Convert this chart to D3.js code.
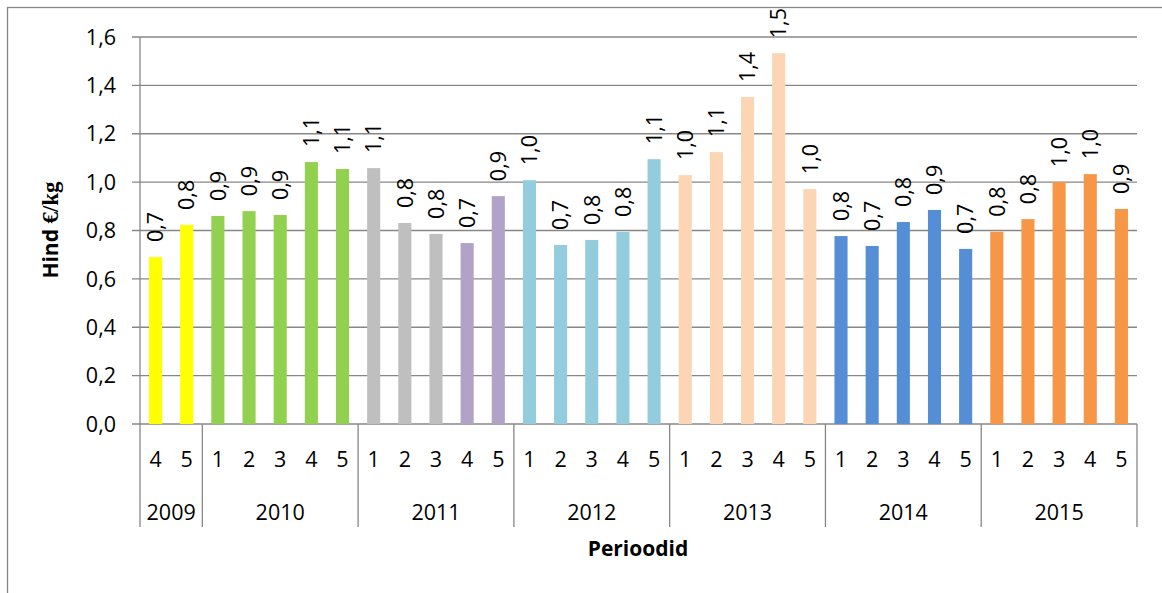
<!DOCTYPE html>
<html>
<head>
<meta charset="utf-8">
<script src="https://cdn.jsdelivr.net/npm/d3@7"></script>
<style>
  body { margin: 0; background: #fff; }
  svg { display: block; font-family: "Open Sans", "Liberation Sans", sans-serif; }
</style>
</head>
<body>
<svg id="chart" width="1162" height="593"></svg>
<script>
// data
var years = ["2009", "2010", "2011", "2012", "2013", "2014", "2015"];
var periods = [
  ["4", "5"],
  ["1", "2", "3", "4", "5"],
  ["1", "2", "3", "4", "5"],
  ["1", "2", "3", "4", "5"],
  ["1", "2", "3", "4", "5"],
  ["1", "2", "3", "4", "5"],
  ["1", "2", "3", "4", "5"]
];
var values = [
  0.69, 0.823,
  0.86, 0.88, 0.864, 1.083, 1.054,
  1.058, 0.831, 0.786, 0.748, 0.942,
  1.008, 0.74, 0.761, 0.794, 1.095,
  1.029, 1.124, 1.352, 1.533, 0.971,
  0.777, 0.736, 0.835, 0.885, 0.724,
  0.795, 0.847, 1.0, 1.033, 0.889
];
var yTicks = [0, 0.2, 0.4, 0.6, 0.8, 1.0, 1.2, 1.4, 1.6];

// colours by year (2011 splits after period 3)
var palette = {
  "2009": "#FFFF00", "2010": "#92D050", "2011": "#BFBFBF", "2011b": "#B3A2C7",
  "2012": "#93CDDD", "2013": "#FCD5B5", "2014": "#558ED5", "2015": "#F79646"
};

var rows = [];
years.forEach(function(yr, i) {
  periods[i].forEach(function(p) {
    rows.push({ year: yr, period: p, key: yr + "-" + p, value: values[rows.length] });
  });
});

var svg = d3.select("#chart");
var plotL = 140, plotR = 1137, plotT = 37, plotB = 424;
var grid = "#878787";
var fs = 21.5;
var fmt = function(v) { return d3.format(".1f")(v).replace(".", ","); };

// outer frame
svg.append("rect")
  .attr("x", 7.5).attr("y", 7.5)
  .attr("width", 1300).attr("height", 800)
  .attr("fill", "none").attr("stroke", grid).attr("stroke-width", 1.3);

var x = d3.scaleBand()
  .domain(rows.map(function(d) { return d.key; }))
  .range([plotL, plotR])
  .paddingInner(0.58).paddingOuter(0.29);

var y = d3.scaleLinear().domain([0, 1.6]).range([plotB, plotT]);

// gridlines + y ticks
svg.append("g").selectAll("line")
  .data(yTicks).enter().append("line")
  .attr("x1", plotL - 8).attr("x2", plotR)
  .attr("y1", function(d) { return y(d); })
  .attr("y2", function(d) { return y(d); })
  .attr("stroke", grid).attr("stroke-width", 1.3);

svg.append("g").selectAll("text")
  .data(yTicks).enter().append("text")
  .attr("x", plotL - 24)
  .attr("y", function(d) { return y(d); })
  .attr("dy", "0.36em")
  .attr("text-anchor", "end")
  .attr("font-size", fs)
  .text(fmt);

svg.append("line")
  .attr("x1", plotL).attr("x2", plotL)
  .attr("y1", plotT).attr("y2", plotB)
  .attr("stroke", grid).attr("stroke-width", 1.3);

// bars
svg.append("g").selectAll("rect")
  .data(rows).enter().append("rect")
  .attr("x", function(d) { return x(d.key); })
  .attr("width", x.bandwidth())
  .attr("y", function(d) { return y(d.value); })
  .attr("height", function(d) { return y(0) - y(d.value); })
  .attr("fill", function(d) {
    if (d.year == "2011" && +d.period > 3) return palette["2011b"];
    return palette[d.year];
  });

// data labels
svg.append("g").selectAll("text")
  .data(rows).enter().append("text")
  .attr("transform", function(d) {
    return "translate(" + (x(d.key) + x.bandwidth() / 2) + "," + (y(d.value) - 15) + ") rotate(-90)";
  })
  .attr("dy", "0.36em")
  .attr("font-size", fs)
  .text(function(d) { return fmt(d.value); });

// category axis: period labels, year labels, separators
var step = x.step();
var xAxis = svg.append("g");
var start = 0, bounds = [plotL];
years.forEach(function(yr, i) {
  var n = periods[i].length;
  var x0 = plotL + start * step, x1 = x0 + n * step;
  bounds.push(x1);
  xAxis.append("text")
    .attr("x", (x0 + x1) / 2).attr("y", 512)
    .attr("dy", "0.36em")
    .attr("text-anchor", "middle")
    .attr("font-size", fs)
    .text(yr);
  start += n;
});

xAxis.selectAll("text.period")
  .data(rows).enter().append("text")
  .attr("class", "period")
  .attr("x", function(d) { return x(d.key) + x.bandwidth() / 2; })
  .attr("y", 459)
  .attr("dy", "0.36em")
  .attr("text-anchor", "middle")
  .attr("font-size", fs)
  .text(function(d) { return d.period; });

xAxis.selectAll("line.sep")
  .data(bounds).enter().append("line")
  .attr("class", "sep")
  .attr("x1", function(d) { return d; }).attr("x2", function(d) { return d; })
  .attr("y1", plotB).attr("y2", 527)
  .attr("stroke", grid).attr("stroke-width", 1.3);

// axis titles
svg.append("text")
  .attr("x", 638).attr("y", 548)
  .attr("dy", "0.36em")
  .attr("text-anchor", "middle")
  .attr("font-size", 21)
  .attr("font-weight", "bold")
  .text("Perioodid");

var yt = svg.append("text")
  .attr("transform", "translate(50,230) rotate(-90)")
  .attr("dy", "0.36em")
  .attr("text-anchor", "middle")
  .attr("font-size", 21)
  .attr("font-weight", "bold");
yt.append("tspan").text("Hind ");
yt.append("tspan").attr("font-family", "Liberation Serif, serif").attr("font-size", 23).text("€/kg");
</script>
</body>
</html>
